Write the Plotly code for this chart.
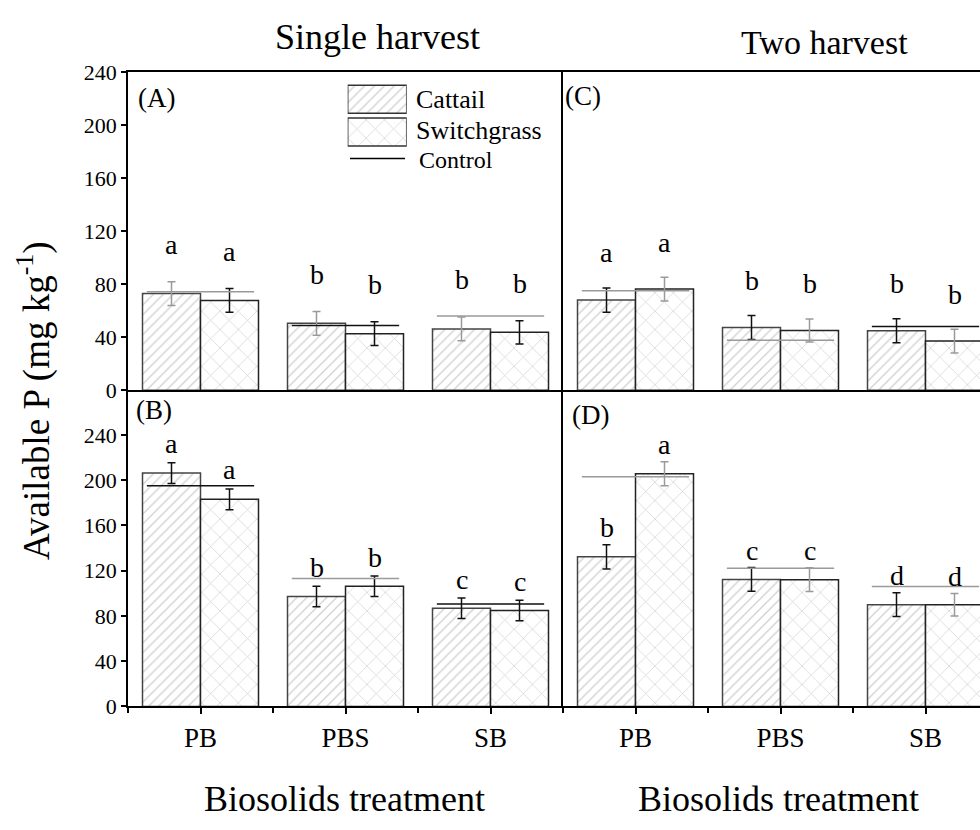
import plotly.graph_objects as go

# ---------------- data ----------------
treatments = ["PB", "PBS", "SB"]

# Single harvest, panel (A)
A_cattail = [72.9, 50.5, 46.3]
A_cattail_err = [9.0, 9.0, 9.0]
A_switch = [67.8, 42.7, 43.7]
A_switch_err = [9.0, 9.0, 8.8]
A_control = [74.4, 48.8, 56.1]
A_letters_cattail = ["a", "b", "b"]
A_letters_switch = ["a", "b", "b"]

# Single harvest, panel (B)
B_cattail = [206.2, 97.1, 86.8]
B_cattail_err = [9.2, 9.1, 9.0]
B_switch = [183.0, 106.2, 84.8]
B_switch_err = [9.2, 9.0, 9.0]
B_control = [195.0, 113.0, 90.5]
B_letters_cattail = ["a", "b", "c"]
B_letters_switch = ["a", "b", "c"]

# Two harvest, panel (C)
C_cattail = [68.0, 47.3, 44.9]
C_cattail_err = [9.2, 9.0, 9.0]
C_switch = [76.3, 45.1, 37.1]
C_switch_err = [9.0, 8.7, 9.0]
C_control = [75.1, 37.8, 48.1]
C_letters_cattail = ["a", "b", "b"]
C_letters_switch = ["a", "b", "b"]

# Two harvest, panel (D)
D_cattail = [132.2, 112.2, 89.9]
D_cattail_err = [10.7, 10.5, 10.5]
D_switch = [205.6, 112.0, 89.9]
D_switch_err = [10.7, 10.5, 10.0]
D_control = [203.0, 122.2, 105.9]
D_letters_cattail = ["b", "c", "d"]
D_letters_switch = ["a", "c", "d"]

y_ticks = [0, 40, 80, 120, 160, 200, 240]

# ---------------- style ----------------
W, H = 980, 830
SERIF = "'Liberation Serif', serif"
GRAY = "#9a9a9a"
BLACK = "#111111"

def px_x(p):
    return p / W

def px_y(p):
    return 1 - p / H

XL = [px_x(128), px_x(563)]
XR = [px_x(563), 1.0]
YT = [px_y(390), px_y(62)]
YB = [px_y(716), px_y(390)]

panels = [
    dict(x="x", y="y", cat=A_cattail, cate=A_cattail_err, sw=A_switch, swe=A_switch_err,
         ctrl=A_control, lc=A_letters_cattail, ls=A_letters_switch,
         ecc=GRAY, ecs=BLACK, ctrl_col=[GRAY, BLACK, GRAY], shift=37),
    dict(x="x2", y="y2", cat=C_cattail, cate=C_cattail_err, sw=C_switch, swe=C_switch_err,
         ctrl=C_control, lc=C_letters_cattail, ls=C_letters_switch,
         ecc=BLACK, ecs=GRAY, ctrl_col=[GRAY, GRAY, BLACK], shift=35),
    dict(x="x3", y="y3", cat=B_cattail, cate=B_cattail_err, sw=B_switch, swe=B_switch_err,
         ctrl=B_control, lc=B_letters_cattail, ls=B_letters_switch,
         ecc=BLACK, ecs=BLACK, ctrl_col=[BLACK, GRAY, BLACK], shift=19),
    dict(x="x4", y="y4", cat=D_cattail, cate=D_cattail_err, sw=D_switch, swe=D_switch_err,
         ctrl=D_control, lc=D_letters_cattail, ls=D_letters_switch,
         ecc=BLACK, ecs=GRAY, ctrl_col=[GRAY, GRAY, GRAY], shift=17),
]

xpos = list(range(len(treatments)))
OFF = 0.2
CTRL_HALF = 0.37

fig = go.Figure()
annotations = []

for p in panels:
    fig.add_trace(go.Bar(
        x=xpos, y=p["cat"], xaxis=p["x"], yaxis=p["y"], name="Cattail", showlegend=False,
        marker=dict(color="white", line=dict(color="#444444", width=1.5),
                    pattern=dict(shape="/", size=7, solidity=0.18, fgcolor="#a0a0a0", bgcolor="white")),
        error_y=dict(type="data", array=p["cate"], color=p["ecc"], thickness=1.5, width=4),
    ))
    fig.add_trace(go.Bar(
        x=xpos, y=p["sw"], xaxis=p["x"], yaxis=p["y"], name="Switchgrass", showlegend=False,
        marker=dict(color="white", line=dict(color="#222222", width=1.5),
                    pattern=dict(shape="x", size=13, solidity=0.1, fgcolor="#a0a0a0", bgcolor="white")),
        error_y=dict(type="data", array=p["swe"], color=p["ecs"], thickness=1.5, width=4),
    ))
    for i, v in enumerate(p["ctrl"]):
        fig.add_trace(go.Scatter(
            x=[i - CTRL_HALF, i + CTRL_HALF], y=[v, v], xaxis=p["x"], yaxis=p["y"],
            mode="lines", line=dict(color=p["ctrl_col"][i], width=1.5),
            showlegend=False, hoverinfo="skip"))
    for i in xpos:
        for off, vals, errs, labs in ((-OFF, p["cat"], p["cate"], p["lc"]),
                                      (OFF, p["sw"], p["swe"], p["ls"])):
            annotations.append(dict(
                x=i + off, y=vals[i] + errs[i], xref=p["x"], yref=p["y"],
                text=labs[i], showarrow=False, yanchor="middle", yshift=p["shift"],
                font=dict(family=SERIF, size=28, color="black")))

# legend inset (pattern boxes)
fig.add_trace(go.Bar(
    x=[1, 1], y=[1, 0], orientation="h", xaxis="x5", yaxis="y5", width=0.86,
    showlegend=False, hoverinfo="skip",
    marker=dict(color="white", line=dict(color="#333333", width=1.5),
                pattern=dict(shape=["/", "x"], size=[7, 13], solidity=[0.18, 0.1],
                             fgcolor="#a0a0a0", bgcolor="white")),
))

axis_line = dict(showline=True, linecolor="black", linewidth=1.5, showgrid=False, zeroline=False)
minor_x = dict(tickvals=[-0.5, 0.5, 1.5, 2.5], ticks="outside", ticklen=5, tickwidth=1.5,
               tickcolor="black", showgrid=False)

layout = dict(
    width=W, height=H, margin=dict(l=0, r=0, t=0, b=0),
    paper_bgcolor="white", plot_bgcolor="rgba(0,0,0,0)",
    barmode="group", bargap=0.2, bargroupgap=0,
    showlegend=False,
    font=dict(family=SERIF, color="black"),
    xaxis=dict(domain=XL, anchor="y", range=[-0.5, 2.5], mirror=True, showticklabels=False,
               ticks="", **axis_line),
    yaxis=dict(domain=YT, anchor="x", range=[0, 240], tickvals=y_ticks,
               ticks="outside", ticklen=5, tickwidth=1.5, tickcolor="black",
               tickfont=dict(family=SERIF, size=22), **axis_line),
    xaxis2=dict(domain=XR, anchor="y2", range=[-0.5, -0.5 + 417 / 145], mirror=True,
                showticklabels=False, ticks="", **axis_line),
    yaxis2=dict(domain=YT, anchor="x2", range=[0, 240], showticklabels=False, ticks="", **axis_line),
    xaxis3=dict(domain=XL, anchor="y3", range=[-0.5, 2.5], tickvals=xpos, ticktext=treatments,
                ticks="outside", ticklen=6, tickwidth=1.5, tickcolor="black", minor=minor_x,
                tickfont=dict(family=SERIF, size=27), **axis_line),
    yaxis3=dict(domain=YB, anchor="x3", range=[0, 279.4], tickvals=y_ticks,
                ticks="outside", ticklen=5, tickwidth=1.5, tickcolor="black",
                tickfont=dict(family=SERIF, size=22), **axis_line),
    xaxis4=dict(domain=XR, anchor="y4", range=[-0.5, -0.5 + 417 / 145], tickvals=xpos,
                ticktext=treatments, ticks="outside", ticklen=6, tickwidth=1.5, tickcolor="black",
                minor=minor_x, tickfont=dict(family=SERIF, size=27), **axis_line),
    yaxis4=dict(domain=YB, anchor="x4", range=[0, 279.4], showticklabels=False, ticks="", **axis_line),
    xaxis5=dict(domain=[px_x(347.7), px_x(406.7)], anchor="y5", range=[0, 1], visible=False,
                fixedrange=True),
    yaxis5=dict(domain=[px_y(140.55), px_y(73.15)], anchor="x5", range=[-0.5, 1.5], visible=False,
                fixedrange=True),
)
fig.update_layout(**layout)

def paper_text(text, x, y, size, xanchor="center", textangle=0):
    return dict(text=text, x=px_x(x), y=px_y(y), xref="paper", yref="paper", showarrow=False,
                xanchor=xanchor, yanchor="middle", textangle=textangle,
                font=dict(family=SERIF, size=size, color="black"))

annotations += [
    paper_text("Single harvest", 377.5, 25.5, 36),
    paper_text("Two harvest", 824, 31.5, 34),
    paper_text("Biosolids treatment", 344.5, 811.5, 36),
    paper_text("Biosolids treatment", 778, 811.5, 36),
    paper_text("Available P (mg kg<sup>-1</sup>)", 34, 401, 37, textangle=-90),
    paper_text("(A)", 136, 88.5, 27, xanchor="left"),
    paper_text("(C)", 563, 87, 27, xanchor="left"),
    paper_text("(B)", 134, 410, 27, xanchor="left"),
    paper_text("(D)", 570, 415, 27, xanchor="left"),
    paper_text("Cattail", 414, 90, 26, xanchor="left"),
    paper_text("Switchgrass", 414, 122, 26, xanchor="left"),
    paper_text("Control", 417, 153, 24, xanchor="left"),
]
fig.update_layout(annotations=annotations)

fig.add_shape(type="line", xref="paper", yref="paper",
              x0=px_x(350), x1=px_x(405), y0=px_y(151), y1=px_y(151),
              line=dict(color="black", width=1.5))

fig.write_html("out.html")
